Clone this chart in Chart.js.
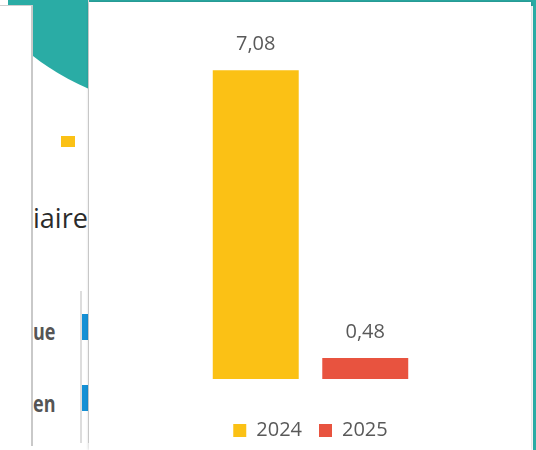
<!DOCTYPE html>
<html lang="fr">
<head>
<meta charset="utf-8">
<script src="https://cdn.jsdelivr.net/npm/chart.js@4.4.1/dist/chart.umd.min.js"></script>
<style>
  html, body { margin: 0; padding: 0; background: #ffffff; }
  body { width: 536px; height: 450px; position: relative; overflow: hidden; font-family: "Open Sans", sans-serif; }
  .teal { position: absolute; background: #2aaca5; }
  .panel { position: absolute; background: #ffffff; overflow: hidden; }
  #side1 { left: 0; top: 5px; width: 31px; height: 440px; border-top: 1px solid #d0d0d0; border-right: 2px solid #c9c9c9; }
  #side2 { left: 33px; top: 0; width: 55px; height: 443px; border-right: 1px solid #dcdcdc; }
  #disc { position: absolute; left: -90px; top: -367px; width: 474px; height: 474px; border-radius: 50%; background: #2aaca5; }
  #swatch { position: absolute; left: 28px; top: 136px; width: 14px; height: 11px; background: #fbc115; }
  #word { position: absolute; left: 0; top: 201px; font-size: 27px; color: #2b2b2b; line-height: 34px; white-space: nowrap; }
  .rowlabel { position: absolute; left: 0; font-size: 18px; font-weight: bold; color: #555555; line-height: 20px; transform: scaleY(1.3); transform-origin: left center; }
  #rule { position: absolute; left: 47px; top: 291px; width: 2px; height: 155px; background: #dddddd; }
  .bluebar { position: absolute; left: 49px; width: 6px; background: #1590d5; }
  #main { left: 89px; top: 2px; width: 442px; height: 448px; box-shadow: 0 0 3px rgba(0,0,0,0.25); }
  #chart { position: absolute; left: 0; top: 0; }
</style>
</head>
<body>
<div class="teal" style="left:8px;top:0;width:528px;height:6px;"></div>
<div class="teal" style="left:533px;top:0;width:3px;height:450px;"></div>

<div class="panel" id="side1"></div>
<div class="panel" id="side2">
  <div id="disc"></div>
  <div id="swatch"></div>
  <div id="word">iaire</div>
  <div class="rowlabel" style="top:321px;">ue</div>
  <div class="rowlabel" style="top:393px;">en</div>
  <div id="rule"></div>
  <div class="bluebar" style="top:314px;height:26px;"></div>
  <div class="bluebar" style="top:385px;height:26px;"></div>
</div>

<div class="panel" id="main">
  <canvas id="chart" width="443" height="460"></canvas>
</div>

<script>
// Data
const categories = [''];
const seriesNames = ['2024', '2025'];
const values2024 = [7.08];
const values2025 = [0.48];
const seriesColors = ['#fbc115', '#e8533f'];

const frNumber = v => v.toFixed(2).replace('.', ',');

// Value labels drawn above each bar
const valueLabels = {
  id: 'valueLabels',
  afterDatasetsDraw(chart) {
    const ctx = chart.ctx;
    ctx.save();
    ctx.font = '20px "Open Sans"';
    ctx.fillStyle = '#595959';
    ctx.textAlign = 'center';
    ctx.textBaseline = 'middle';
    chart.data.datasets.forEach((ds, i) => {
      chart.getDatasetMeta(i).data.forEach((bar, j) => {
        const v = ds.data[j];
        if (v == null) return;
        ctx.fillText(frNumber(v), bar.x, bar.y - 25.5);
      });
    });
    ctx.restore();
  }
};

new Chart(document.getElementById('chart'), {
  type: 'bar',
  data: {
    labels: categories,
    datasets: [
      { label: seriesNames[0], data: values2024, backgroundColor: seriesColors[0], borderWidth: 0 },
      { label: seriesNames[1], data: values2025, backgroundColor: seriesColors[1], borderWidth: 0 }
    ]
  },
  options: {
    responsive: false,
    animation: false,
    layout: { padding: { top: 28, left: 0, right: 0, bottom: 11.5 } },
    datasets: { bar: { categoryPercentage: 0.4944, barPercentage: 0.785 } },
    scales: {
      x: { display: false },
      y: { display: false, min: 0, max: 8 }
    },
    plugins: {
      tooltip: { enabled: false },
      legend: {
        position: 'bottom',
        title: { display: true, text: '', font: { size: 10, lineHeight: 1 }, padding: { top: 14.5, bottom: 0 } },
        labels: {
          boxWidth: 13,
          boxHeight: 13,
          padding: 17,
          color: '#595959',
          font: { family: 'Open Sans', size: 20 }
        }
      }
    }
  },
  plugins: [valueLabels]
});
</script>
</body>
</html>
